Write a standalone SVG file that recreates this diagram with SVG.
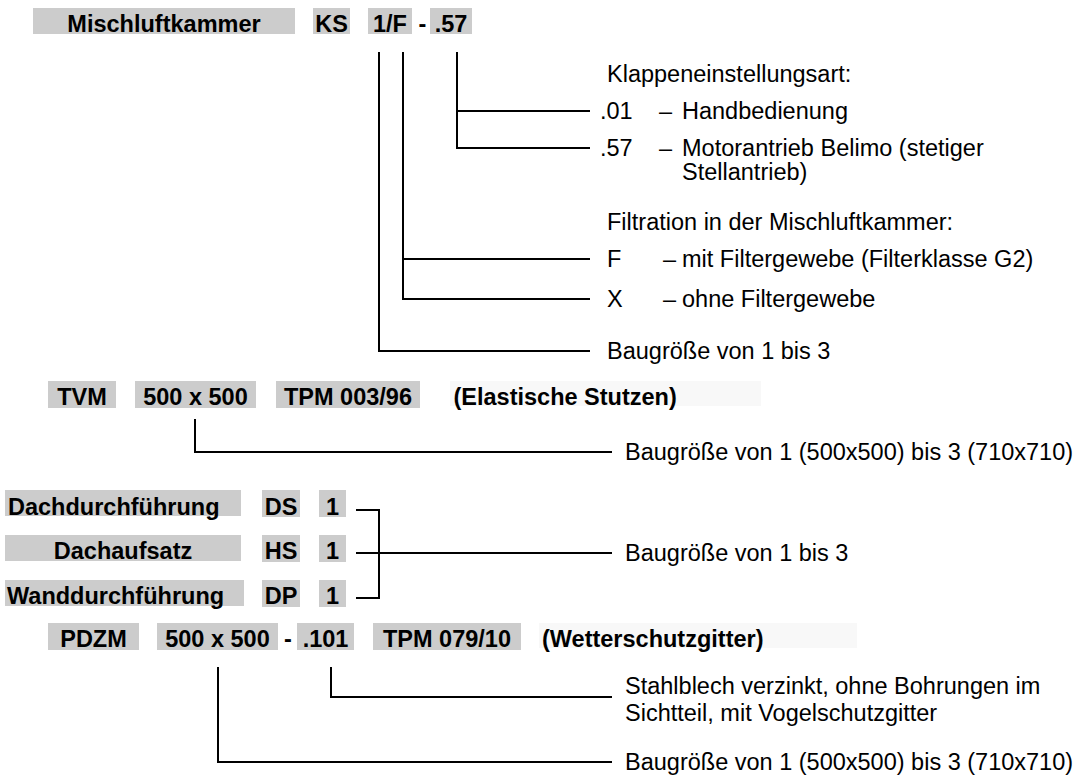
<svg xmlns="http://www.w3.org/2000/svg" width="1087" height="776" viewBox="0 0 1087 776">
<style>
.box{fill:#cccccc}
.faint{fill:#f8f8f8}
.b{font-family:"Liberation Sans",Arial,sans-serif;font-weight:bold;font-size:23.5px;fill:#000}
.r{font-family:"Liberation Sans",Arial,sans-serif;font-size:23.5px;fill:#000}
.c{text-anchor:middle}
.ln{fill:none;stroke:#000;stroke-width:2;stroke-linecap:butt;stroke-linejoin:miter}
</style>
<rect width="1087" height="776" fill="#fff"/>
<g id="code-ks">
<rect class="box" x="33" y="8" width="262" height="26"/>
<text class="b c" x="164" y="32">Mischluftkammer</text>
<rect class="box" x="313" y="8" width="37" height="26"/>
<text class="b c" x="331.5" y="32">KS</text>
<rect class="box" x="368" y="8" width="44" height="26"/>
<text class="b c" x="390" y="32">1/F</text>
<text class="b c" x="422.5" y="32">-</text>
<rect class="box" x="430" y="8" width="42" height="26"/>
<text class="b c" x="451" y="32">.57</text>
</g>
<g id="legend-ks">
<text class="r" x="607" y="82">Klappeneinstellungsart:</text>
<text class="r" x="600" y="119">.01</text><text class="r" x="659" y="119">–</text><text class="r" x="682" y="119">Handbedienung</text>
<text class="r" x="600" y="156">.57</text><text class="r" x="659" y="156">–</text><text class="r" x="682" y="156">Motorantrieb Belimo (stetiger</text>
<text class="r" x="682" y="180">Stellantrieb)</text>
<text class="r" x="607" y="230">Filtration in der Mischluftkammer:</text>
<text class="r" x="607" y="267">F</text><text class="r" x="663" y="267">–</text><text class="r" x="682" y="267">mit Filtergewebe (Filterklasse G2)</text>
<text class="r" x="607" y="307">X</text><text class="r" x="663" y="307">–</text><text class="r" x="682" y="307">ohne Filtergewebe</text>
<text class="r" x="607" y="359">Baugröße von 1 bis 3</text>
</g>
<g id="code-tvm">
<rect class="box" x="48" y="381" width="68" height="27"/>
<text class="b c" x="82" y="405">TVM</text>
<rect class="box" x="135" y="381" width="121" height="27"/>
<text class="b c" x="195.5" y="405">500 x 500</text>
<rect class="box" x="276" y="381" width="144" height="27"/>
<text class="b c" x="348" y="405">TPM 003/96</text>
<rect class="faint" x="450" y="381" width="311" height="25"/>
<text class="b" x="453.5" y="405">(Elastische Stutzen)</text>
</g>
<g id="legend-tvm">
<text class="r" x="625" y="460">Baugröße von 1 (500x500) bis 3 (710x710)</text>
</g>
<g id="code-ds">
<rect class="box" x="5" y="490" width="236" height="26"/>
<text class="b" x="8" y="515">Dachdurchführung</text>
<rect class="box" x="262" y="490" width="38" height="27"/>
<text class="b c" x="281" y="515">DS</text>
<rect class="box" x="319" y="490" width="27" height="27"/>
<text class="b c" x="332.5" y="515">1</text>
</g>
<g id="code-hs">
<rect class="box" x="5" y="535" width="236" height="26"/>
<text class="b c" x="123" y="559">Dachaufsatz</text>
<rect class="box" x="262" y="535" width="38" height="27"/>
<text class="b c" x="281" y="559">HS</text>
<rect class="box" x="319" y="535" width="27" height="27"/>
<text class="b c" x="332.5" y="559">1</text>
</g>
<g id="code-dp">
<rect class="box" x="5" y="580" width="239" height="26"/>
<text class="b" x="7" y="604">Wanddurchführung</text>
<rect class="box" x="262" y="580" width="38" height="27"/>
<text class="b c" x="281" y="604">DP</text>
<rect class="box" x="319" y="580" width="27" height="27"/>
<text class="b c" x="332.5" y="604">1</text>
</g>
<g id="legend-roof">
<text class="r" x="625" y="561">Baugröße von 1 bis 3</text>
</g>
<g id="code-pdzm">
<rect class="box" x="48" y="623" width="91" height="27"/>
<text class="b c" x="93.5" y="647">PDZM</text>
<rect class="box" x="157" y="623" width="121" height="27"/>
<text class="b c" x="217.5" y="647">500 x 500</text>
<text class="b c" x="288" y="647">-</text>
<rect class="box" x="297" y="623" width="57" height="27"/>
<text class="b c" x="325.5" y="647">.101</text>
<rect class="box" x="373" y="623" width="148" height="27"/>
<text class="b c" x="447" y="647">TPM 079/10</text>
<rect class="faint" x="539" y="623" width="318" height="25"/>
<text class="b" x="542" y="647">(Wetterschutzgitter)</text>
</g>
<g id="legend-pdzm">
<text class="r" x="625" y="694">Stahlblech verzinkt, ohne Bohrungen im</text>
<text class="r" x="625" y="721">Sichtteil, mit Vogelschutzgitter</text>
<text class="r" x="625" y="770">Baugröße von 1 (500x500) bis 3 (710x710)</text>
</g>
<g id="connectors" class="ln">
<path d="M379,52 V351 H590"/>
<path d="M403,52 V299 H590 M403,259 H590"/>
<path d="M457,52 V148 H590 M457,111 H590"/>
<path d="M195,419 V452 H612"/>
<path d="M356,510 H379 V598 H356 M356,553 H612"/>
<path d="M331,667 V697 H612"/>
<path d="M218,667 V762 H612"/>
</g>
</svg>
